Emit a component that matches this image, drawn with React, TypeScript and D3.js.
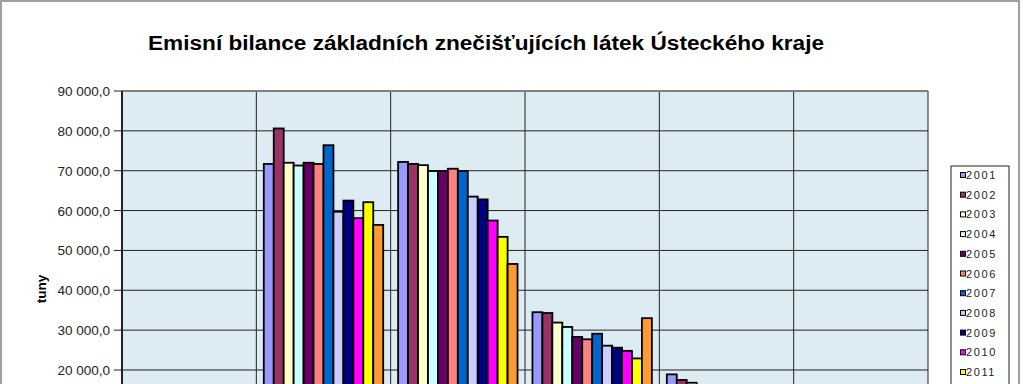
import React from "react";
import * as d3 from "d3";

const categories = ["TZL", "SO2", "NOx", "CO", "VOC", "NH3"];
const years = ["2001", "2002", "2003", "2004", "2005", "2006", "2007", "2008", "2009", "2010", "2011", "2012"];
const colors = ["#9999FF", "#993366", "#FFFFCC", "#CCFFFF", "#660066", "#FF8080", "#0066CC", "#CCCCFF", "#000080", "#FF00FF", "#FFFF00", "#FF9933"];
// values per year, order of categories
const v2001 = [5200, 71700, 72200, 34500, 18900, 2600];
const v2002 = [4800, 80600, 71700, 34300, 17500, 2500];
const v2003 = [4600, 72000, 71400, 31900, 16800, 2500];
const v2004 = [4500, 71300, 69900, 30800, 16200, 2400];
const v2005 = [4300, 72000, 69900, 28300, 15600, 2400];
const v2006 = [4200, 71700, 70500, 27700, 15200, 2300];
const v2007 = [4100, 76400, 69900, 29100, 14800, 2300];
const v2008 = [3900, 59700, 63500, 26100, 14000, 2200];
const v2009 = [3600, 62500, 62800, 25600, 13400, 2200];
const v2010 = [3500, 58100, 57500, 24800, 13000, 2100];
const v2011 = [3400, 62100, 53400, 22900, 12500, 2100];
const v2012 = [3300, 56400, 46600, 33000, 12000, 2000];
const series = [v2001, v2002, v2003, v2004, v2005, v2006, v2007, v2008, v2009, v2010, v2011, v2012];
const yTicks = [0, 10000, 20000, 30000, 40000, 50000, 60000, 70000, 80000, 90000];

const fmt = (v: number) => {
  const s = d3.format(",.1f")(v);
  return s.replace(/,/g, " ").replace(".", ",");
};

export default function App() {
  const W = 1023, H = 384;
  const plotL = 122, plotR = 928, plotT = 91, plotB = 449.7;
  const x = d3.scaleBand<string>().domain(categories).range([plotL, plotR]).paddingInner(0).paddingOuter(0);
  const y = d3.scaleLinear().domain([0, 90000]).range([plotB, plotT]);
  const bw = x.bandwidth() / 13.5;
  const font = "Arial, 'Liberation Sans', sans-serif";
  return (
    <svg width={W} height={H} style={{ position: "absolute", left: 0, top: 0, background: "#fff" }} fontFamily={font}>
      <rect x={0} y={0} width={W} height={H} fill="#fff" />
      <rect x={1} y={1} width={1018} height={H + 20} fill="none" stroke="#a0a0a0" strokeWidth={2} />
      <text x={486} y={50} textAnchor="middle" fontSize={20} fontWeight="bold" fill="#000" textLength={676} lengthAdjust="spacingAndGlyphs">
        Emisní bilance základních znečišťujících látek Ústeckého kraje
      </text>
      <rect x={plotL} y={plotT} width={plotR - plotL} height={plotB - plotT} fill="#DDEBF3" />
      {yTicks.map((t) => (
        <g key={t}>
          <line x1={plotL} x2={plotR} y1={y(t)} y2={y(t)} stroke="#222" strokeWidth={1} />
          <line x1={plotL - 8} x2={plotL} y1={y(t)} y2={y(t)} stroke="#222" strokeWidth={1} />
          <text x={110} y={y(t) + 5} textAnchor="end" fontSize={13.5} fill="#222">{fmt(t)}</text>
        </g>
      ))}
      {categories.map((c) => (
        <line key={c} x1={x(c)! + x.bandwidth()} x2={x(c)! + x.bandwidth()} y1={plotT} y2={plotB} stroke="#222" strokeWidth={1} />
      ))}
      <line x1={plotL} x2={plotR} y1={plotT} y2={plotT} stroke="#808080" strokeWidth={2} />
      {series.map((vals, si) =>
        categories.map((c, ci) => (
          <rect
            key={si + "-" + c}
            x={x(c)! + bw * 0.75 + si * bw}
            y={y(vals[ci])}
            width={bw}
            height={plotB - y(vals[ci])}
            fill={colors[si]}
            stroke="#000"
            strokeWidth={1.8}
          />
        ))
      )}
      <line x1={plotL} x2={plotL} y1={plotT} y2={plotB} stroke="#222" strokeWidth={2} />
      {categories.map((c) => (
        <text key={"l" + c} x={x(c)! + x.bandwidth() / 2} y={plotB + 18} textAnchor="middle" fontSize={12}>{c}</text>
      ))}
      <text transform={`translate(46,289) rotate(-90)`} textAnchor="middle" fontSize={13.5} fontWeight="bold">tuny</text>
      <rect x={951} y={166} width={58} height={240} fill="#fff" stroke="#222" strokeWidth={1} />
      {years.map((yr, i) => (
        <g key={yr}>
          <rect x={960.5} y={172.5 + i * 19.7} width={5} height={5} fill={colors[i]} stroke="#000" strokeWidth={1} />
          <text x={966} y={179 + i * 19.7} fontSize={11} letterSpacing={1.6} fill="#222">{yr}</text>
        </g>
      ))}
    </svg>
  );
}
